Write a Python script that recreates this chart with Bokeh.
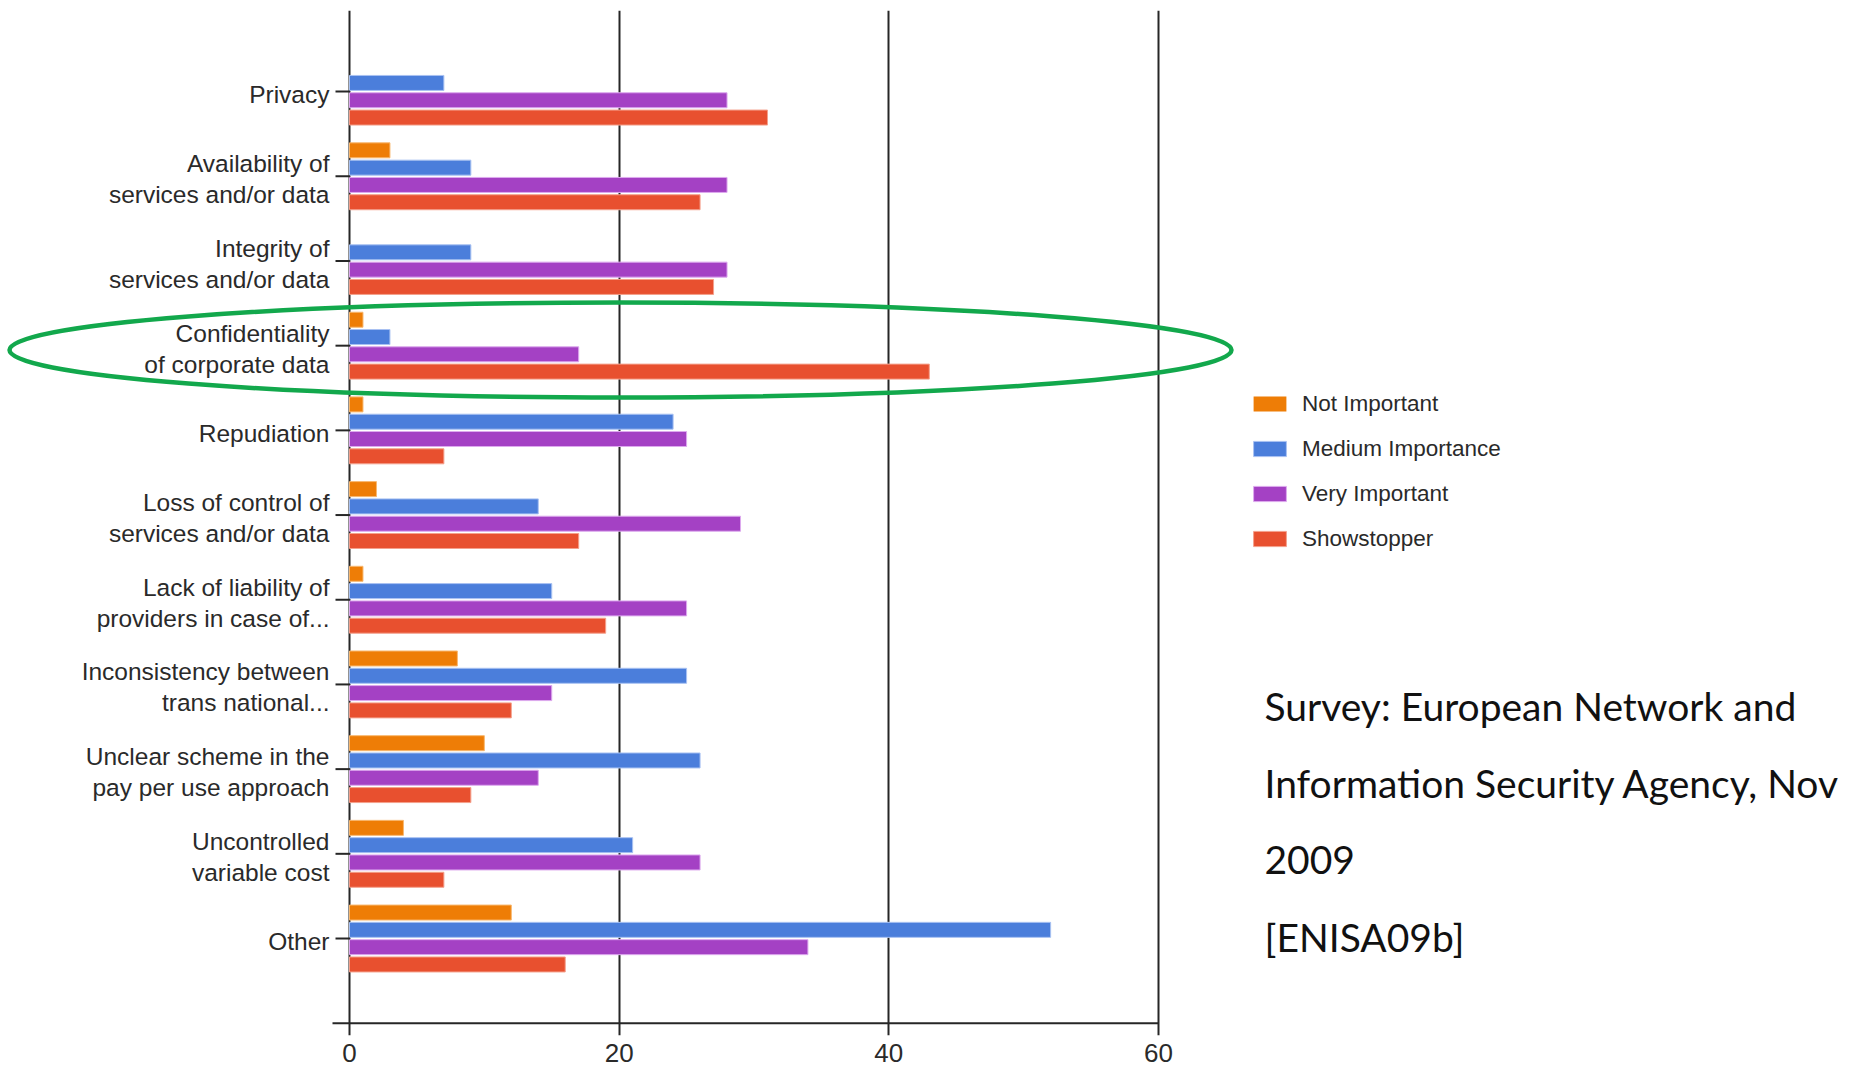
from bokeh.plotting import figure
from bokeh.models import Range1d, FixedTicker
from bokeh.embed import file_html
from bokeh.resources import INLINE
from bokeh.core.properties import value

# ---------------- data ----------------
categories = [
    "Privacy",
    "Availability of\nservices and/or data",
    "Integrity of\nservices and/or data",
    "Confidentiality\nof corporate data",
    "Repudiation",
    "Loss of control of\nservices and/or data",
    "Lack of liability of\nproviders in case of...",
    "Inconsistency between\ntrans national...",
    "Unclear scheme in the\npay per use approach",
    "Uncontrolled\nvariable cost",
    "Other",
]
series_names = ["Not Important", "Medium Importance", "Very Important", "Showstopper"]
not_important = [0, 3, 0, 1, 1, 2, 1, 8, 10, 4, 12]
medium_importance = [7, 9, 9, 3, 24, 14, 15, 25, 26, 21, 52]
very_important = [28, 28, 28, 17, 25, 29, 25, 15, 14, 26, 34]
showstopper = [31, 26, 27, 43, 7, 17, 19, 12, 9, 7, 16]
x_ticks = [0, 20, 40, 60]
note_lines = [
    "Survey: European Network and",
    "Information Security Agency, Nov",
    "2009",
    "[ENISA09b]",
]
highlight_category = "Confidentiality\nof corporate data"

# ---------------- layout (pixels) ----------------
W, H = 1856, 1067
FRAME_TOP, FRAME_BOTTOM = 10, 1035
X0_PX, X60_PX = 349.0, 1158.0
Y1_PX, Y12_PX = 91.1, 1022.7
SX = (X60_PX - X0_PX) / 60.0
SY = (Y12_PX - Y1_PX) / 11.0


def dx(px):
    return (px - X0_PX) / SX


def dy(py):
    return 1 + (py - Y1_PX) / SY


x_start, x_end = dx(0), dx(W)
y_top, y_bottom = dy(FRAME_TOP), dy(FRAME_BOTTOM)

colors = ["#EE7D06", "#4B7EDB", "#A441C4", "#E8502F"]
edge_colors = ["#F8B870", "#A9C2F2", "#DDAAEE", "#F4A08C"]
series = [not_important, medium_importance, very_important, showstopper]

p = figure(
    width=W, height=H,
    x_range=Range1d(x_start, x_end),
    y_range=Range1d(start=y_bottom, end=y_top),
    output_backend="svg", toolbar_location=None,
    y_axis_location=None,
    min_border_left=0, min_border_right=0,
    min_border_top=FRAME_TOP, min_border_bottom=H - FRAME_BOTTOM,
)
p.outline_line_color = None
p.background_fill_color = "white"
p.border_fill_color = "white"

# vertical grid lines at the x ticks (they also form the y axis line and bottom ticks)
p.xgrid.ticker = FixedTicker(ticks=x_ticks)
p.xgrid.grid_line_color = "#262626"
p.xgrid.grid_line_width = 2
p.ygrid.visible = False

# bottom axis: labels only
xa = p.xaxis[0]
xa.ticker = FixedTicker(ticks=x_ticks)
xa.axis_line_color = None
xa.major_tick_line_color = None
xa.minor_tick_line_color = None
xa.major_label_standoff = 2
xa.major_label_text_font = "Liberation Sans"
xa.major_label_text_font_size = "26px"
xa.major_label_text_color = "#2a2a2a"

# bars
ypos = [i + 1 for i in range(len(categories))]
pitch = 17.3 / SY
bar_h = 15.0 / SY
for k, (vals, name) in enumerate(zip(series, series_names)):
    off = (k - 1.5) * pitch
    p.hbar(
        y=[y + off for y in ypos], left=0, right=vals, height=bar_h,
        fill_color=colors[k], line_color=edge_colors[k], line_width=1,
        line_alpha=[1.0 if v > 0 else 0.0 for v in vals],
        legend_label=name,
    )

# left axis ticks and bottom axis line
tick_len = 14.0 / SX
p.segment(x0=[-tick_len] * len(ypos), y0=ypos, x1=[0] * len(ypos), y1=ypos,
          line_color="#262626", line_width=2)
p.segment(x0=[-17.0 / SX], y0=[12], x1=[x_ticks[-1]], y1=[12],
          line_color="#262626", line_width=2)

# category labels
label_shift = 3.0 / SY
p.text(
    x=[dx(X0_PX - 20)] * len(categories), y=[y + label_shift for y in ypos],
    text=categories,
    text_align="right", text_baseline="middle",
    text_font=value("Liberation Sans"), text_font_size="24.5px",
    text_color="#2a2a2a", text_line_height=1.15,
)

# note text on the right
baselines = [705, 782, 859, 936]
p.text(
    x=[dx(1264)] * len(note_lines), y=[dy(b) for b in baselines], text=note_lines,
    text_align="left", text_baseline="alphabetic",
    text_font=value("Lato"), text_font_size="39px", text_color="#111111",
)

# green highlight ellipse around the confidentiality group
hy = categories.index(highlight_category) + 1
p.ellipse(
    x=[dx(620)], y=[hy + (349.5 - (Y1_PX + 3 * SY)) / SY],
    width=[1222 / SX], height=[95 / SY],
    fill_color=None, line_color="#12A84C", line_width=4.5,
)

# legend
leg = p.legend[0]
leg.glyph_width = 41
leg.glyph_height = 19
leg.label_height = 27
leg.spacing = 18
leg.padding = 0
leg.margin = 0
leg.label_standoff = 12
leg.border_line_color = None
leg.background_fill_alpha = 0
leg.label_text_font = "Liberation Sans"
leg.label_text_font_size = "22.5px"
leg.label_text_color = "#2a2a2a"
leg.location = (1249, FRAME_BOTTOM - 552)

open("out.html", "w").write(file_html(p, INLINE))
